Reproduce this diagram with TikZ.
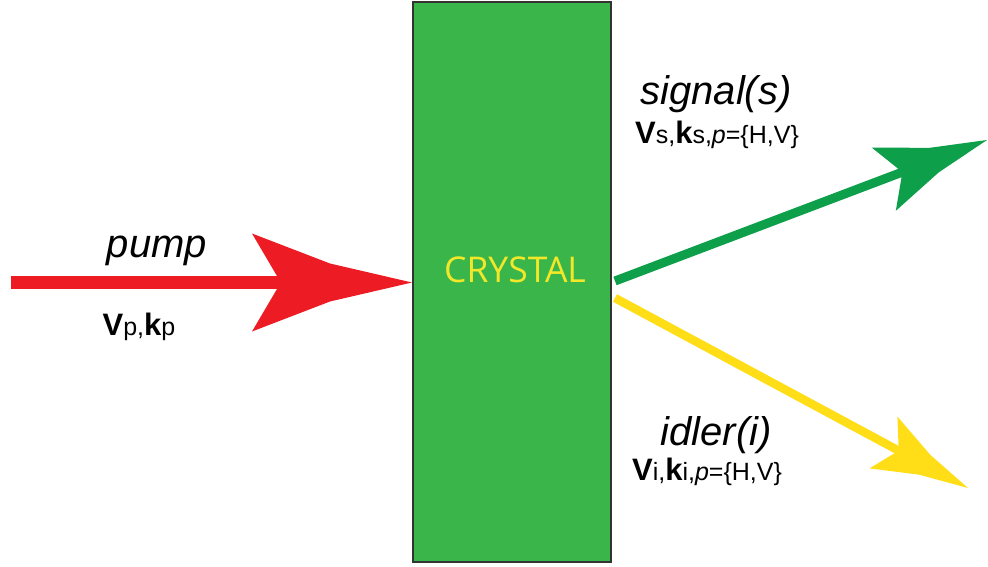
\documentclass[tikz,border=0pt]{standalone}
\usepackage{fontspec}
\newfontfamily\labfont{Liberation Sans}
\newfontfamily\crysfont{Open Sans}
\usetikzlibrary{calc}
\definecolor{pumpred}{HTML}{ED1C24}
\definecolor{crysgreen}{HTML}{3AB54A}
\definecolor{sigshaft}{HTML}{0E9F4B}
\definecolor{idlyellow}{HTML}{FFDD17}
\definecolor{crysyellow}{HTML}{F2E829}
\definecolor{crysedge}{HTML}{333333}
\newcommand{\bigvec}[1]{{\fontsize{31}{34}\selectfont\bfseries #1}}
\tikzset{
  beamhead/.pic={\fill (0,0) -- (-82,19) -- (-160,49) -- (-135,6.5) -- (-135,-6.5) -- (-160,-49) -- (-82,-19) -- cycle;},
  bigit/.style={font=\labfont\itshape\fontsize{40}{44}\selectfont, anchor=base, inner sep=0pt},
  smalllab/.style={font=\labfont\fontsize{25}{30}\selectfont, anchor=base, inner sep=0pt},
  beam/.style={line cap=butt},
}
\begin{document}
\begin{tikzpicture}[x=1pt,y=-1pt]
\useasboundingbox (0,0) rectangle (988,567);
% crystal
\node[draw=crysedge, line width=1.5pt, fill=crysgreen, minimum width=198pt, minimum height=560pt, inner sep=0pt] (crystal) at (512,282) {};
\node[font=\crysfont\fontsize{35.5}{40}\selectfont, text=crysyellow, inner sep=0pt] (crystext) at (515,270) {CRYSTAL};
% coordinates
\coordinate (pstart) at (11,282.5);
\coordinate (ptip) at (412,282.5);
\coordinate (sstart) at (615,281);
\coordinate (stip) at (987,140);
\coordinate (istart) at (615,298);
\coordinate (itip) at (968,488);
% pump
\draw[beam, pumpred, line width=13pt] (pstart) -- ($(ptip)!125pt!(pstart)$);
\pic[pumpred] at (ptip) {beamhead};
% signal
\draw[beam, sigshaft, line width=9pt] (sstart) -- ($(stip)!86pt!(sstart)$);
\pic[sigshaft, rotate=20.8, scale=0.69] at (stip) {beamhead};
% idler
\draw[beam, idlyellow, line width=8.5pt] (istart) -- ($(itip)!75pt!(istart)$);
\pic[idlyellow, rotate=-28.3, scale=0.6] at (itip) {beamhead};
% labels
\node[bigit] (pumplab) at (157,257) {pump};
\node[smalllab] (pumpvec) at (139,335) {\bigvec{V}p,\bigvec{k}p};
\node[bigit] (siglab) at (716,105) {signal(s)};
\node[smalllab] (sigvec) at (717,144) {\bigvec{V}s,\bigvec{k}s,\textit{p}=\{H,V\}};
\node[bigit] (idlab) at (716,445) {idler(i)};
\node[smalllab] (idvec) at (707,480) {\bigvec{V}i,\bigvec{k}i,\textit{p}=\{H,V\}};
\end{tikzpicture}
\end{document}
